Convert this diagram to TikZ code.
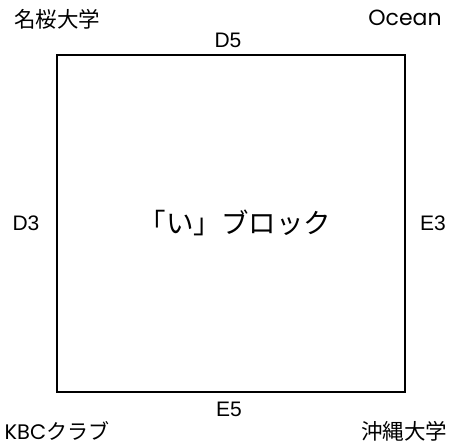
\documentclass[tikz,border=0pt]{standalone}
\usepackage{fontspec}
\setmainfont{Liberation Sans}
\newfontfamily\jpfont{Noto Sans CJK JP}
\newfontfamily\geofont{Poppins}
\begin{document}
\begin{tikzpicture}[x=1pt,y=-1pt,
  edgelbl/.style={font=\fontsize{21}{24}\selectfont, inner sep=0pt},
  cornerlbl/.style={font=\fontsize{21.5}{25}\selectfont\jpfont, inner sep=0pt},
  geolbl/.style={font=\fontsize{22}{26}\selectfont\geofont, inner sep=0pt},
  blockbox/.style={draw, line width=1.2pt}]
\useasboundingbox (0,0) rectangle (450,446);
\node[blockbox, minimum width=348pt, minimum height=337pt, inner sep=0pt] (box) at (231,223.5) {};
\node[font=\fontsize{27.5}{32}\selectfont\jpfont, inner sep=0pt] (c) at (235,223) {「い」ブロック};
\node[edgelbl] (d5) at (228,40) {D5};
\node[edgelbl] (d3) at (26,223) {D3};
\node[edgelbl] (e3) at (433,223) {E3};
\node[edgelbl] (e5) at (229,409) {E5};
\node[cornerlbl] (nm) at (57,19) {名桜大学};
\node[geolbl] (oc) at (405,18) {Ocean};
\node[cornerlbl, font=\fontsize{21}{25}\selectfont\jpfont] (kbc) at (57,431) {{\geofont KBC}クラブ};
\node[cornerlbl] (ok) at (404,431) {沖縄大学};
\end{tikzpicture}
\end{document}
